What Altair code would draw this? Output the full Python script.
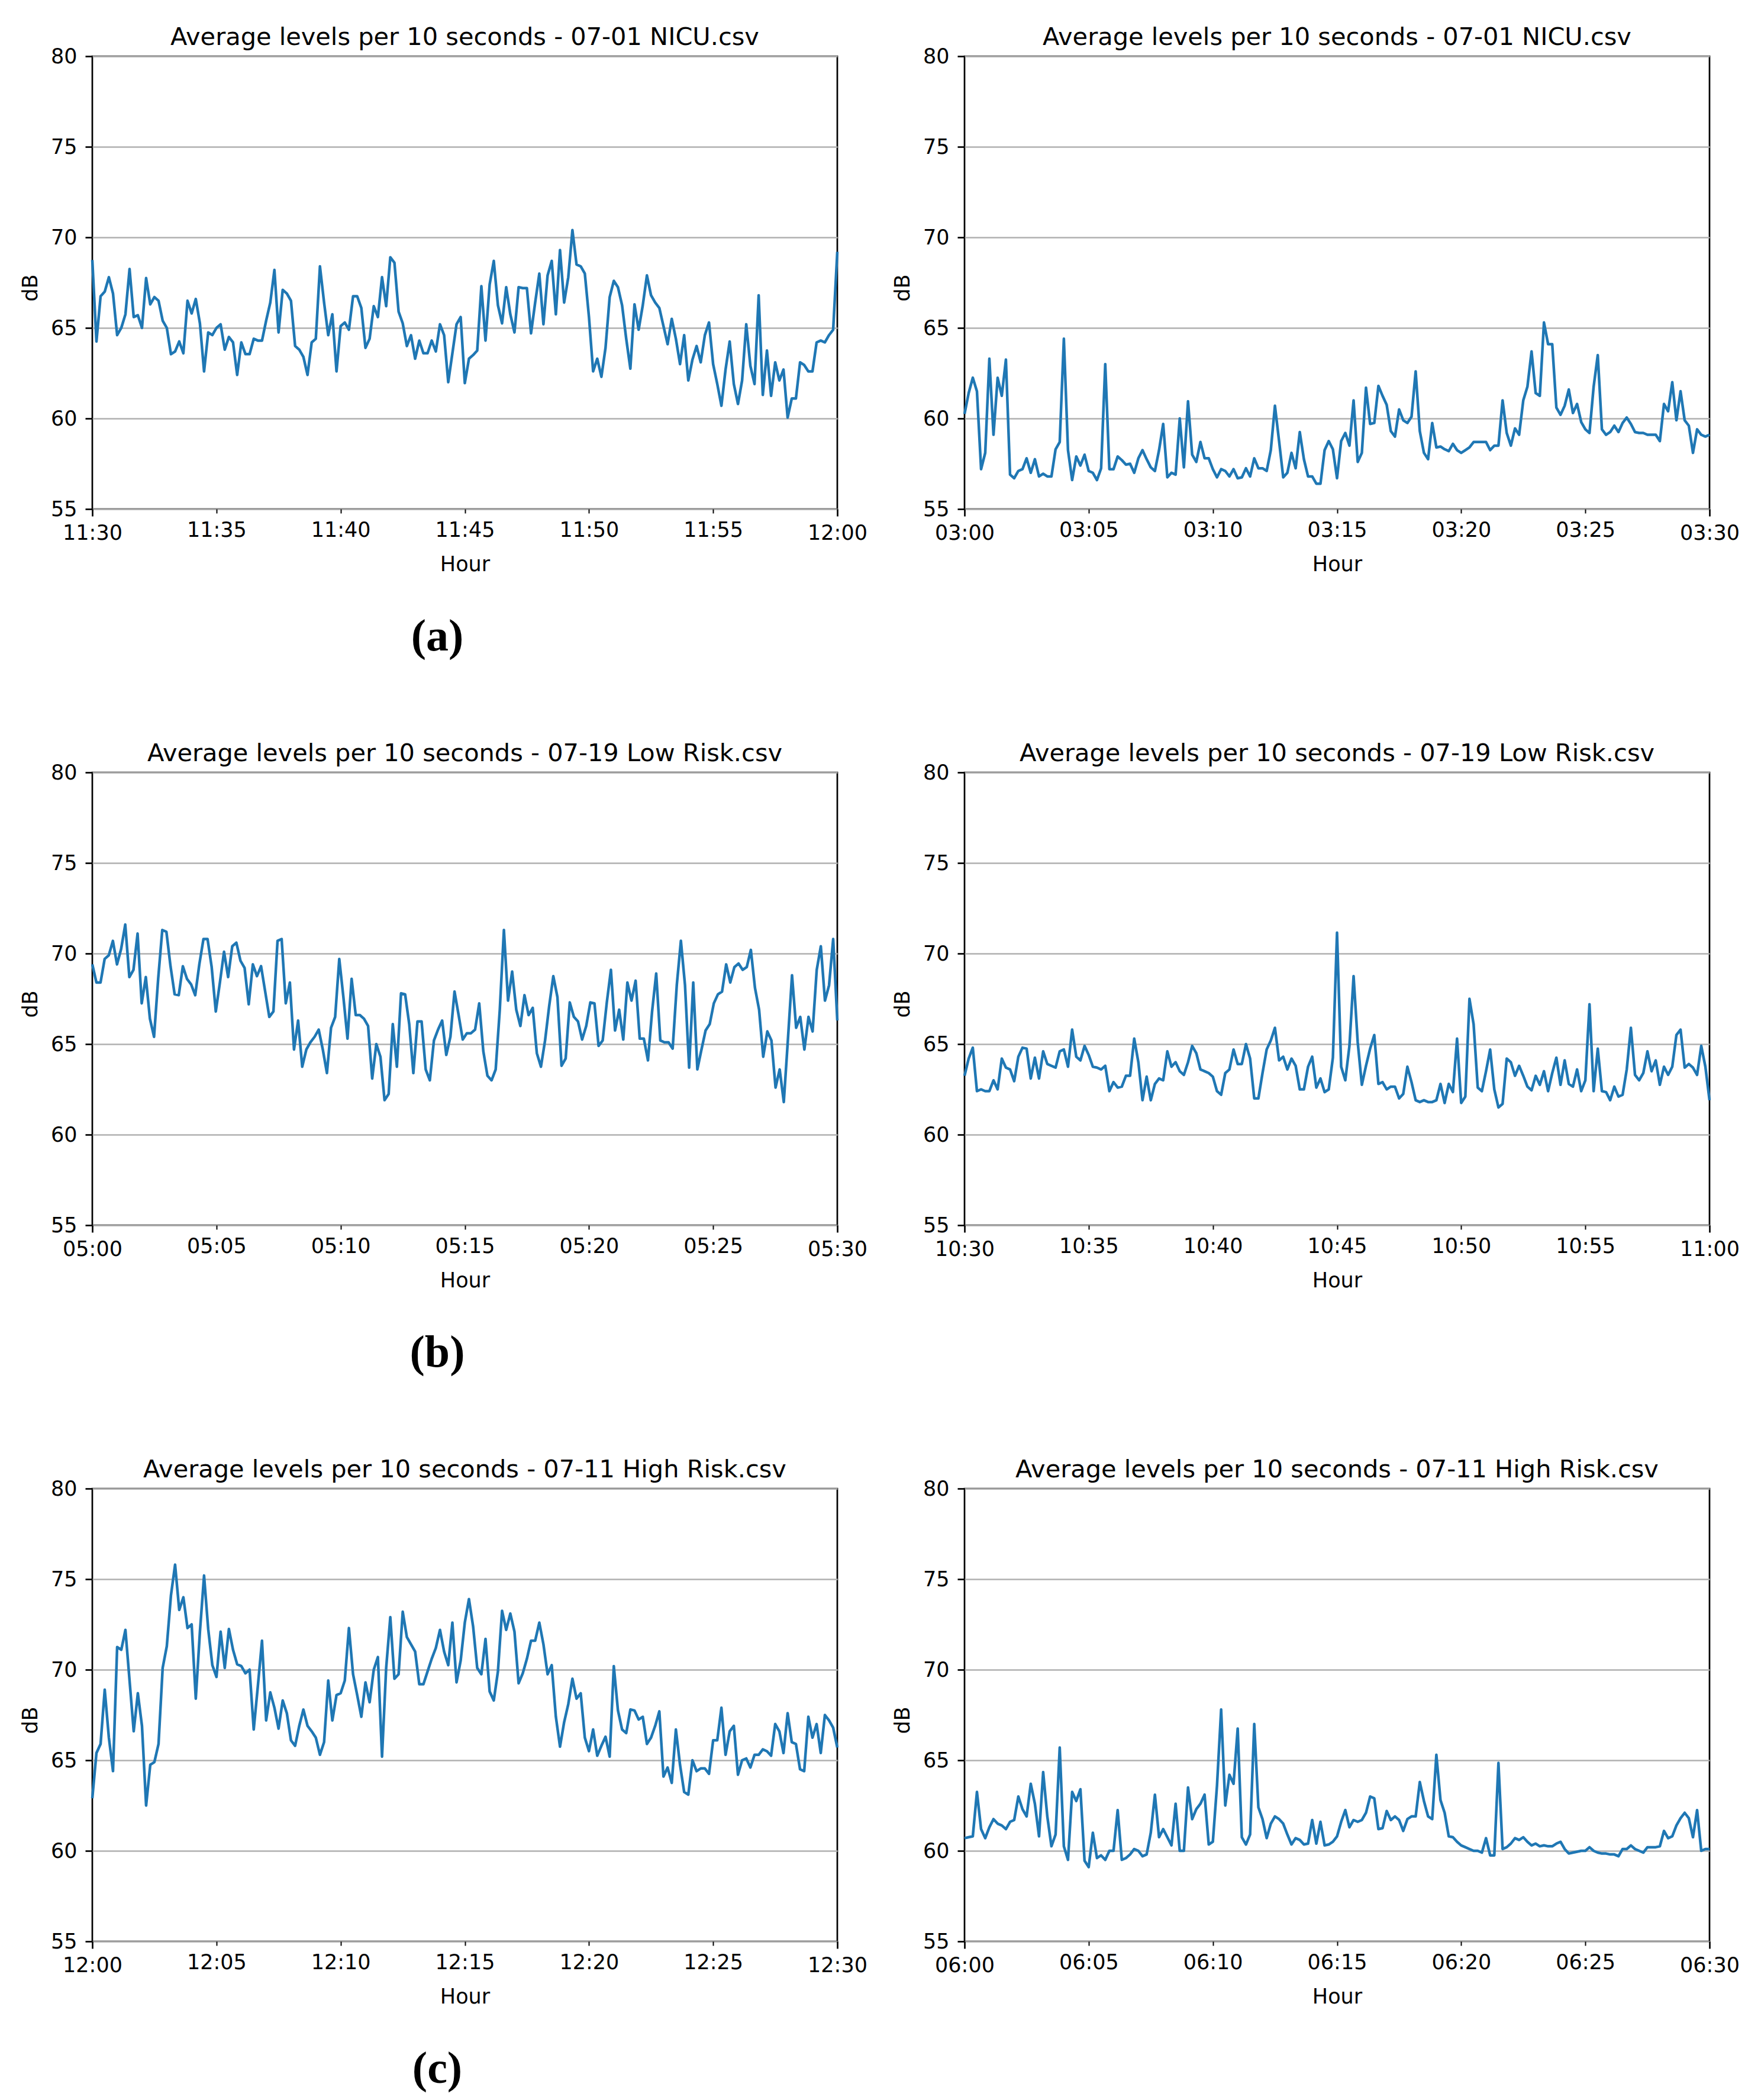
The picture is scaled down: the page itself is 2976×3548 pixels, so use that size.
import json
import numpy as np
import pandas as pd
import altair as alt

# ---------------- text ----------------
TITLE_A = "Average levels per 10 seconds - 07-01 NICU.csv"
TITLE_B = "Average levels per 10 seconds - 07-19 Low Risk.csv"
TITLE_C = "Average levels per 10 seconds - 07-11 High Risk.csv"
CAPTIONS = ["(a)", "(b)", "(c)"]

TICKS_A_LEFT = ["11:30", "11:35", "11:40", "11:45", "11:50", "11:55", "12:00"]
TICKS_A_RIGHT = ["03:00", "03:05", "03:10", "03:15", "03:20", "03:25", "03:30"]
TICKS_B_LEFT = ["05:00", "05:05", "05:10", "05:15", "05:20", "05:25", "05:30"]
TICKS_B_RIGHT = ["10:30", "10:35", "10:40", "10:45", "10:50", "10:55", "11:00"]
TICKS_C_LEFT = ["12:00", "12:05", "12:10", "12:15", "12:20", "12:25", "12:30"]
TICKS_C_RIGHT = ["06:00", "06:05", "06:10", "06:15", "06:20", "06:25", "06:30"]

MINUTE_TICKS = [0, 5, 10, 15, 20, 25, 30]
DB_TICKS = [55, 60, 65, 70, 75, 80]

# ---------------- series (dB, one value per 10 s) ----------------
VALS_A_LEFT = [68.75, 64.25, 66.75, 67.0, 67.8, 66.9, 64.6, 65.0, 65.75, 68.25, 65.6, 65.7, 65.0, 67.75, 66.3,
               66.7, 66.5, 65.4, 65.0, 63.55, 63.7, 64.25, 63.6, 66.5, 65.8, 66.6, 65.25, 62.6, 64.75, 64.6,
               65.0, 65.2, 63.8, 64.5, 64.2, 62.4, 64.2, 63.55, 63.55, 64.4, 64.3, 64.3, 65.4, 66.4, 68.2,
               64.75, 67.1, 66.9, 66.5, 64.0, 63.8, 63.4, 62.4, 64.2, 64.4, 68.4, 66.4, 64.6, 65.75, 62.6,
               65.1, 65.3, 64.9, 66.75, 66.75, 66.1, 63.9, 64.4, 66.2, 65.6, 67.8, 66.2, 68.9, 68.6, 65.9,
               65.25, 64.0, 64.6, 63.3, 64.3, 63.6, 63.6, 64.3, 63.7, 65.2, 64.6, 62.0, 63.6, 65.2, 65.6,
               61.95, 63.3, 63.5, 63.75, 67.3, 64.3, 67.4, 68.7, 66.25, 65.25, 67.25, 65.75, 64.75, 67.25,
               67.2, 67.2, 64.7, 66.4, 68.0, 65.2, 67.9, 68.7, 65.75, 69.3, 66.4, 67.8, 70.4, 68.5, 68.4,
               68.0, 65.6, 62.6, 63.3, 62.3, 63.9, 66.7, 67.6, 67.25, 66.25, 64.4, 62.75, 66.3, 64.9, 66.25,
               67.9, 66.8, 66.4, 66.1, 65.1, 64.1, 65.5, 64.4, 63.0, 64.6, 62.1, 63.25, 64.0, 63.1, 64.6,
               65.3, 63.0, 61.9, 60.7, 62.7, 64.25, 61.9, 60.8, 62.1, 65.2, 62.9, 61.9, 66.8, 61.3, 63.75,
               61.25, 63.1, 62.1, 62.7, 60.05, 61.1, 61.1, 63.1, 62.95, 62.6, 62.6, 64.2, 64.3, 64.2, 64.6,
               64.9, 69.2]

VALS_A_RIGHT = [60.25, 61.4, 62.25, 61.5, 57.2, 58.1, 63.3, 59.1, 62.25, 61.25, 63.25, 56.9, 56.7, 57.1, 57.2,
                57.8, 57.0, 57.75, 56.8, 56.95, 56.8, 56.8, 58.3, 58.7, 64.4, 58.25, 56.6, 57.9, 57.4, 58.0,
                57.1, 57.0, 56.6, 57.25, 63.0, 57.2, 57.2, 57.9, 57.7, 57.45, 57.5, 57.0, 57.8, 58.25, 57.75,
                57.3, 57.1, 58.25, 59.7, 56.75, 57.0, 56.9, 60.0, 57.3, 60.95, 58.0, 57.6, 58.7, 57.8, 57.8,
                57.2, 56.75, 57.2, 57.1, 56.8, 57.2, 56.7, 56.75, 57.25, 56.8, 57.8, 57.25, 57.25, 57.1, 58.25,
                60.7, 58.75, 56.75, 57.0, 58.1, 57.25, 59.25, 57.75, 56.8, 56.8, 56.4, 56.4, 58.25, 58.75, 58.3,
                56.7, 58.75, 59.2, 58.5, 61.0, 57.6, 58.1, 61.7, 59.7, 59.75, 61.8, 61.25, 60.75, 59.3, 59.0,
                60.5, 59.9, 59.75, 60.1, 62.6, 59.3, 58.1, 57.75, 59.75, 58.4, 58.45, 58.3, 58.2, 58.6, 58.25,
                58.1, 58.25, 58.4, 58.7, 58.7, 58.7, 58.7, 58.25, 58.5, 58.5, 61.0, 59.2, 58.5, 59.45, 59.1,
                61.0, 61.75, 63.7, 61.4, 61.25, 65.3, 64.1, 64.1, 60.6, 60.2, 60.7, 61.6, 60.3, 60.8, 59.8,
                59.4, 59.2, 61.75, 63.5, 59.4, 59.1, 59.25, 59.6, 59.25, 59.75, 60.05, 59.7, 59.25, 59.2, 59.2,
                59.1, 59.1, 59.1, 58.75, 60.8, 60.4, 62.0, 59.9, 61.5, 59.9, 59.6, 58.1, 59.4, 59.1, 59.0,
                59.1]

VALS_B_LEFT = [69.4, 68.4, 68.4, 69.7, 69.9, 70.7, 69.4, 70.25, 71.6, 68.7, 69.1, 71.1, 67.25, 68.7, 66.4,
               65.4, 68.6, 71.3, 71.2, 69.3, 67.75, 67.7, 69.3, 68.6, 68.3, 67.7, 69.4, 70.8, 70.8, 69.25,
               66.8, 68.4, 70.1, 68.7, 70.4, 70.6, 69.6, 69.2, 67.2, 69.4, 68.75, 69.3, 67.9, 66.5, 66.8,
               70.7, 70.8, 67.25, 68.4, 64.7, 66.3, 63.75, 64.7, 65.1, 65.4, 65.8, 64.7, 63.4, 65.9, 66.5,
               69.7, 67.6, 65.3, 68.6, 66.6, 66.6, 66.4, 66.0, 63.1, 65.0, 64.3, 61.9, 62.25, 66.1, 63.75,
               67.8, 67.75, 66.1, 63.4, 66.25, 66.25, 63.6, 63.0, 65.2, 65.8, 66.3, 64.4, 65.4, 67.9, 66.6,
               65.25, 65.6, 65.6, 65.8, 67.25, 64.6, 63.25, 63.0, 63.6, 66.9, 71.3, 67.4, 69.0, 66.9, 66.0,
               67.7, 66.6, 67.0, 64.5, 63.75, 65.2, 67.1, 68.75, 67.6, 63.8, 64.2, 67.3, 66.5, 66.25, 65.25,
               66.0, 67.3, 67.25, 64.9, 65.2, 67.3, 69.1, 65.75, 66.9, 65.25, 68.4, 67.4, 68.5, 65.3, 65.3,
               64.1, 66.8, 68.9, 65.2, 65.1, 65.1, 64.75, 68.25, 70.7, 68.25, 63.7, 68.4, 63.6, 64.7, 65.75,
               66.1, 67.25, 67.75, 67.9, 69.4, 68.4, 69.25, 69.45, 69.1, 69.25, 70.2, 68.1, 66.9, 64.3, 65.7,
               65.2, 62.6, 63.6, 61.8, 65.25, 68.8, 65.9, 66.5, 64.7, 66.5, 65.7, 69.1, 70.4, 67.4, 68.25,
               70.8, 66.3]

VALS_B_RIGHT = [63.25, 64.2, 64.8, 62.4, 62.5, 62.4, 62.4, 63.0, 62.5, 64.2, 63.7, 63.6, 62.95, 64.3, 64.8,
                64.75, 63.1, 64.25, 63.1, 64.6, 63.9, 63.8, 63.7, 64.6, 64.7, 63.75, 65.8, 64.3, 64.1, 64.9,
                64.4, 63.75, 63.7, 63.6, 63.8, 62.4, 62.9, 62.6, 62.65, 63.25, 63.25, 65.3, 64.0, 61.9, 63.2,
                61.9, 62.8, 63.1, 63.0, 64.6, 63.75, 64.0, 63.5, 63.3, 64.0, 64.9, 64.5, 63.6, 63.5, 63.4,
                63.2, 62.4, 62.2, 63.4, 63.6, 64.7, 63.9, 63.9, 65.0, 64.2, 62.0, 62.0, 63.4, 64.7, 65.2,
                65.9, 64.1, 64.3, 63.6, 64.2, 63.8, 62.5, 62.5, 63.75, 64.3, 62.6, 63.1, 62.35, 62.5, 64.25,
                71.15, 63.75, 63.0, 64.9, 68.75, 65.1, 62.75, 63.8, 64.75, 65.5, 62.8, 62.9, 62.5, 62.65, 62.65,
                62.0, 62.25, 63.75, 62.9, 61.9, 61.8, 61.9, 61.8, 61.8, 61.9, 62.8, 61.75, 62.8, 62.35, 65.3,
                61.75, 62.1, 67.5, 66.1, 62.6, 62.4, 63.5, 64.7, 62.5, 61.5, 61.7, 64.2, 64.0, 63.25, 63.8,
                63.25, 62.65, 62.45, 63.25, 62.75, 63.5, 62.4, 63.4, 64.25, 62.75, 64.1, 62.8, 62.65, 63.6, 62.4,
                63.0, 67.2, 62.4, 64.75, 62.4, 62.35, 61.9, 62.65, 62.1, 62.2, 63.6, 65.9, 63.3, 63.0, 63.4,
                64.6, 63.5, 64.1, 62.75, 63.75, 63.3, 63.75, 65.5, 65.8, 63.7, 63.9, 63.7, 63.3, 64.9, 63.75,
                61.9]

VALS_C_LEFT = [62.9, 65.4, 65.9, 68.9, 66.25, 64.4, 71.25, 71.1, 72.2, 69.4, 66.6, 68.7, 66.9, 62.5, 64.75,
               64.9, 65.9, 70.1, 71.3, 74.1, 75.8, 73.3, 74.0, 72.3, 72.5, 68.4, 72.1, 75.2, 72.25, 70.25,
               69.6, 72.1, 70.1, 72.25, 71.1, 70.3, 70.2, 69.8, 70.0, 66.7, 69.1, 71.6, 67.2, 68.75, 67.9,
               66.75, 68.3, 67.6, 66.1, 65.8, 66.9, 67.8, 66.9, 66.6, 66.25, 65.3, 66.0, 69.4, 67.2, 68.6,
               68.7, 69.4, 72.3, 69.75, 68.6, 67.4, 69.3, 68.2, 70.0, 70.7, 65.2, 70.1, 72.9, 69.5, 69.75,
               73.2, 71.8, 71.4, 71.0, 69.2, 69.2, 69.9, 70.6, 71.2, 72.2, 71.0, 70.25, 72.6, 69.3, 70.5,
               72.6, 73.9, 72.4, 70.1, 69.75, 71.7, 68.8, 68.3, 69.9, 73.25, 72.2, 73.1, 72.1, 69.25, 69.8,
               70.6, 71.6, 71.6, 72.6, 71.4, 69.75, 70.25, 67.4, 65.75, 67.1, 68.1, 69.5, 68.4, 68.7, 66.25,
               65.5, 66.7, 65.25, 65.8, 66.3, 65.2, 70.2, 67.75, 66.7, 66.5, 67.8, 67.75, 67.25, 67.4, 65.9,
               66.25, 66.9, 67.7, 64.1, 64.6, 63.75, 66.7, 64.75, 63.25, 63.1, 65.0, 64.4, 64.55, 64.55, 64.25,
               66.1, 66.1, 67.9, 65.3, 66.6, 66.9, 64.2, 65.0, 65.1, 64.6, 65.3, 65.3, 65.6, 65.5, 65.25,
               67.0, 66.6, 65.4, 67.6, 66.0, 65.9, 64.5, 64.4, 67.4, 66.25, 67.0, 65.4, 67.5, 67.2, 66.8,
               65.7]

VALS_C_RIGHT = [60.7, 60.75, 60.8, 63.25, 61.2, 60.7, 61.3, 61.75, 61.5, 61.4, 61.2, 61.6, 61.7, 63.0, 62.3,
                61.9, 63.7, 62.6, 60.8, 64.35, 61.9, 60.25, 60.9, 65.7, 60.25, 59.5, 63.25, 62.75, 63.4, 59.45,
                59.1, 61.0, 59.6, 59.75, 59.5, 60.0, 60.0, 62.25, 59.5, 59.6, 59.8, 60.1, 60.0, 59.7, 59.8,
                61.0, 63.1, 60.75, 61.2, 60.75, 60.3, 62.6, 60.0, 60.0, 63.5, 61.75, 62.3, 62.6, 63.1, 60.35,
                60.5, 63.6, 67.8, 62.5, 64.2, 63.7, 66.75, 60.75, 60.35, 60.9, 67.0, 62.4, 61.75, 60.7, 61.5,
                61.9, 61.75, 61.5, 60.9, 60.35, 60.7, 60.6, 60.35, 60.4, 61.7, 60.4, 61.6, 60.3, 60.35, 60.5,
                60.8, 61.6, 62.25, 61.3, 61.7, 61.6, 61.7, 62.1, 63.0, 62.9, 61.2, 61.25, 62.2, 61.7, 61.9,
                61.7, 61.1, 61.75, 61.9, 61.9, 63.8, 62.75, 61.9, 61.75, 65.3, 62.8, 62.1, 60.8, 60.75, 60.5,
                60.3, 60.2, 60.1, 60.0, 60.0, 59.9, 60.7, 59.75, 59.75, 64.85, 60.1, 60.2, 60.4, 60.7, 60.6,
                60.75, 60.5, 60.3, 60.4, 60.25, 60.3, 60.25, 60.25, 60.4, 60.5, 60.1, 59.85, 59.9, 59.95, 60.0,
                60.0, 60.2, 60.0, 59.9, 59.85, 59.85, 59.8, 59.8, 59.7, 60.1, 60.1, 60.3, 60.1, 60.0, 59.9,
                60.2, 60.2, 60.2, 60.25, 61.1, 60.7, 60.8, 61.4, 61.8, 62.1, 61.8, 60.75, 62.25, 60.0, 60.1,
                60.1]

# ---------------- styling ----------------
FONT = "DejaVu Sans"
LINE_COLOR = "#1f77b4"
PLOT_W, PLOT_H = 1259, 765
END_TEST = "datum.value == 0 || datum.value == 30"


def panel(values, ticks, title, caption=None):
    n = len(values)
    df = pd.DataFrame({"minute": np.linspace(0, 30, n), "db": values})
    label_expr = json.dumps(ticks) + "[round(datum.value / 5)]"

    x_axis = alt.Axis(
        values=MINUTE_TICKS, labelExpr=label_expr, title="Hour", grid=False, domain=False,
        tickSize={"condition": {"test": END_TEST, "value": 12}, "value": 7},
        tickWidth={"condition": {"test": END_TEST, "value": 2.7}, "value": 2},
        tickColor="black", labelPadding=11, labelFont=FONT, labelFontSize=35,
        labelColor="black", labelFlush=False, labelOverlap=False,
        titleFont=FONT, titleFontSize=35, titleFontWeight="normal", titleColor="black",
        titleBaseline="alphabetic", titleY=104,
    )
    y_axis = alt.Axis(
        values=DB_TICKS, title="dB", grid=True, gridColor="#b0b0b0", gridWidth=2.7,
        domain=False, tickSize=12, tickWidth=2.7, tickColor="black", labelPadding=14,
        labelFont=FONT, labelFontSize=35, labelColor="black", labelOverlap=False,
        titleFont=FONT, titleFontSize=35, titleFontWeight="normal", titleColor="black",
        titleAngle=270, titleAlign="center", titleBaseline="middle", titleX=-105, titleY=391,
    )

    line = alt.Chart(df).mark_line(
        color=LINE_COLOR, strokeWidth=4.5, strokeJoin="round"
    ).encode(
        x=alt.X("minute:Q", scale=alt.Scale(domain=[0, 30], nice=False, zero=False), axis=x_axis),
        y=alt.Y("db:Q", scale=alt.Scale(domain=[55, 80], nice=False, zero=False), axis=y_axis),
    )
    ttl = alt.Chart(pd.DataFrame({"ttl": [title]})).mark_text(
        font=FONT, fontSize=41.5, color="black", align="center", baseline="alphabetic",
    ).encode(text="ttl:N", x=alt.value(PLOT_W / 2), y=alt.value(-19))
    layers = [line, ttl]
    if caption is not None:
        cap = alt.Chart(pd.DataFrame({"cap": [caption]})).mark_text(
            font="Liberation Serif", fontSize=76, fontWeight="bold", color="black",
            align="center", baseline="alphabetic",
        ).encode(text="cap:N", x=alt.value(583), y=alt.value(1004))
        layers.append(cap)

    return alt.layer(*layers).properties(width=PLOT_W, height=PLOT_H)


panels = [
    panel(VALS_A_LEFT, TICKS_A_LEFT, TITLE_A, CAPTIONS[0]),
    panel(VALS_A_RIGHT, TICKS_A_RIGHT, TITLE_A),
    panel(VALS_B_LEFT, TICKS_B_LEFT, TITLE_B, CAPTIONS[1]),
    panel(VALS_B_RIGHT, TICKS_B_RIGHT, TITLE_B),
    panel(VALS_C_LEFT, TICKS_C_LEFT, TITLE_C, CAPTIONS[2]),
    panel(VALS_C_RIGHT, TICKS_C_RIGHT, TITLE_C),
]

chart = alt.concat(
    *panels, columns=2, spacing={"row": 445, "column": 215}, bounds="flush"
).properties(
    padding={"left": 24, "top": 33, "right": 10, "bottom": 4},
    background="white",
).configure_view(
    stroke="black", strokeWidth=2.7
)

chart.save("out.html", embed_options={"renderer": "svg", "actions": False})
